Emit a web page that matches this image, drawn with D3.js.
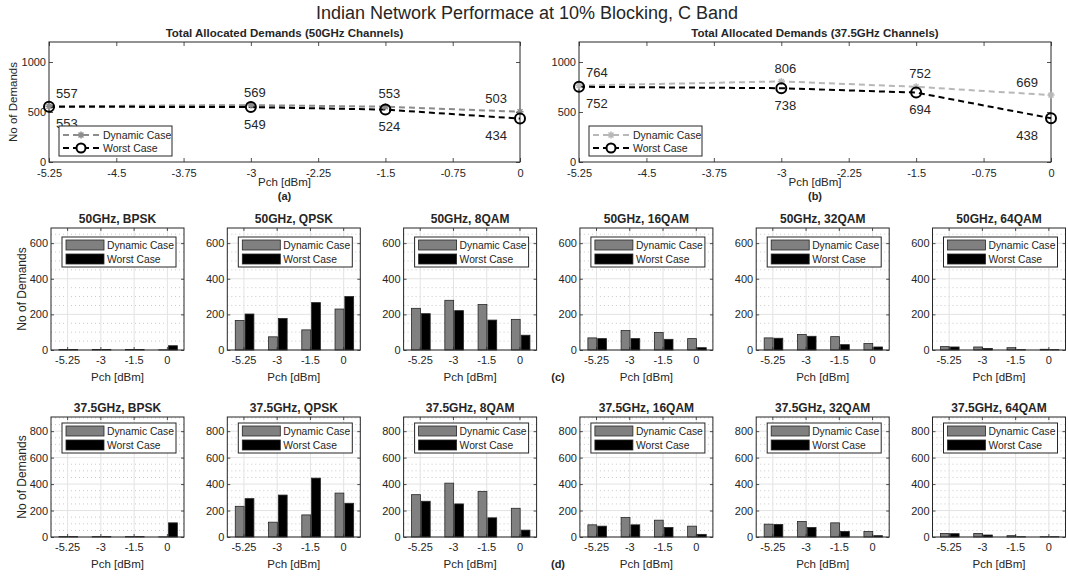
<!DOCTYPE html>
<html><head><meta charset="utf-8">
<script src="https://cdn.jsdelivr.net/npm/d3@7"></script>
<style>
body{margin:0;background:#fff;}
text{font-family:"Liberation Sans",Arial,Helvetica,sans-serif;fill:#262626;}
</style></head>
<body><svg id="chart" width="1068" height="576"></svg>
<script>
// ---------- DATA ----------
const mainTitle = "Indian Network Performace at 10% Blocking, C Band";
const lineXTicks = [-5.25, -4.5, -3.75, -3, -2.25, -1.5, -0.75, 0];
const pchValues = [-5.25, -3, -1.5, 0];
const pchLabels = ["-5.25", "-3", "-1.5", "0"];
const seriesNames = ["Dynamic Case", "Worst Case"];

const dyn50Total = [557, 569, 553, 503];
const worst50Total = [553, 549, 524, 434];
const dyn375Total = [764, 806, 752, 669];
const worst375Total = [752, 738, 694, 438];

const modulations = ["BPSK", "QPSK", "8QAM", "16QAM", "32QAM", "64QAM"];
const dyn50 = [[3,3,3,1],[166,74,113,230],[234,279,255,172],[68,109,98,64],[68,87,75,36],[19,17,13,4]];
const worst50 = [[3,3,3,24],[202,177,266,300],[204,221,168,83],[64,64,60,13],[66,77,30,17],[17,9,2,2]];
const dyn375 = [[3,3,3,1],[232,112,167,332],[320,407,345,217],[92,147,127,82],[97,117,107,42],[27,27,10,2]];
const worst375 = [[3,3,3,107],[290,317,445,255],[270,250,145,52],[82,92,72,20],[95,72,42,10],[25,15,2,2]];

const topYTicks = [0, 500, 1000];
const row1YTicks = [0, 200, 400, 600];
const row2YTicks = [0, 200, 400, 600, 800];

// ---------- DRAW ----------
const svg = d3.select("#chart");
const AX = "#262626";

svg.append("text").attr("x", 527).attr("y", 19).attr("text-anchor", "middle")
  .style("font-size", "18px").text(mainTitle);

function styleAxis(g, showLabels) {
  g.select(".domain").remove();
  g.selectAll(".tick line").attr("stroke", AX).attr("stroke-width", 0.8);
  g.selectAll(".tick text").style("font-size", "11px").attr("fill", AX);
  if (!showLabels) g.selectAll(".tick text").remove();
}

function starPath(r) {
  const p = [];
  for (let k = 0; k < 4; k++) {
    const a = k * Math.PI / 4;
    p.push(`M${-r*Math.cos(a)},${-r*Math.sin(a)}L${r*Math.cos(a)},${r*Math.sin(a)}`);
  }
  return p.join("");
}

function linePanel(x0, x1, dynData, worstData, title, dynColor, letter) {
  const top = 42, bot = 162;
  const x = d3.scaleLinear().domain([-5.25, 0]).range([x0, x1]);
  const y = d3.scaleLinear().domain([0, 1200]).range([bot, top]);
  const g = svg.append("g");
  g.append("g").attr("transform", `translate(0,${bot})`)
    .call(d3.axisBottom(x).tickValues(lineXTicks).tickFormat(d => String(d)).tickSizeInner(-4).tickSizeOuter(0).tickPadding(7))
    .call(a => styleAxis(a, true));
  g.append("g").attr("transform", `translate(0,${top})`)
    .call(d3.axisTop(x).tickValues(lineXTicks).tickSizeInner(-4).tickSizeOuter(0))
    .call(a => styleAxis(a, false));
  g.append("g").attr("transform", `translate(${x0},0)`)
    .call(d3.axisLeft(y).tickValues(topYTicks).tickFormat(d => String(d)).tickSizeInner(-4).tickSizeOuter(0).tickPadding(3))
    .call(a => styleAxis(a, true));
  g.append("g").attr("transform", `translate(${x1},0)`)
    .call(d3.axisRight(y).tickValues(topYTicks).tickSizeInner(-4).tickSizeOuter(0))
    .call(a => styleAxis(a, false));
  g.append("rect").attr("x", x0).attr("y", top).attr("width", x1 - x0).attr("height", bot - top)
    .attr("fill", "none").attr("stroke", AX).attr("stroke-width", 1);

  const line = d3.line().x((d, i) => x(pchValues[i])).y(d => y(d));
  g.append("path").datum(dynData).attr("d", line).attr("fill", "none")
    .attr("stroke", dynColor).attr("stroke-width", 2).attr("stroke-dasharray", "6,4");
  g.append("path").datum(worstData).attr("d", line).attr("fill", "none")
    .attr("stroke", "#000").attr("stroke-width", 2).attr("stroke-dasharray", "6,4");
  g.selectAll(".star").data(dynData).enter().append("path")
    .attr("transform", (d, i) => `translate(${x(pchValues[i])},${y(d)})`)
    .attr("d", starPath(3.5)).attr("stroke", dynColor).attr("stroke-width", 1.5).attr("fill", "none");
  g.selectAll(".circ").data(worstData).enter().append("circle")
    .attr("cx", (d, i) => x(pchValues[i])).attr("cy", d => y(d)).attr("r", 5)
    .attr("fill", "none").attr("stroke", "#000").attr("stroke-width", 2);

  const anchor = i => i === 0 ? "start" : (i === pchValues.length - 1 ? "end" : "middle");
  const dx = i => i === 0 ? 7 : (i === pchValues.length - 1 ? -13 : 4);
  g.selectAll(".lblD").data(dynData).enter().append("text")
    .attr("x", (d, i) => x(pchValues[i]) + dx(i)).attr("y", d => y(d) - 13).attr("dy", "0.35em")
    .attr("text-anchor", (d, i) => anchor(i)).style("font-size", "13px").text(d => d);
  g.selectAll(".lblW").data(worstData).enter().append("text")
    .attr("x", (d, i) => x(pchValues[i]) + dx(i)).attr("y", d => y(d) + 17).attr("dy", "0.35em")
    .attr("text-anchor", (d, i) => anchor(i)).style("font-size", "13px").text(d => d);

  // legend
  const lx = x0 + 10, ly = 126;
  g.append("rect").attr("x", lx).attr("y", ly).attr("width", 113).attr("height", 30)
    .attr("fill", "#fff").attr("stroke", AX).attr("stroke-width", 1);
  [[dynColor, "star"], ["#000", "circ"]].forEach((s, k) => {
    const cy = ly + 9 + k * 13;
    g.append("line").attr("x1", lx + 4).attr("x2", lx + 41).attr("y1", cy).attr("y2", cy)
      .attr("stroke", s[0]).attr("stroke-width", 2).attr("stroke-dasharray", "6,4");
    if (s[1] === "star") {
      g.append("path").attr("transform", `translate(${lx + 22},${cy})`).attr("d", starPath(3.5))
        .attr("stroke", s[0]).attr("stroke-width", 1.5).attr("fill", "#fff");
    } else {
      g.append("circle").attr("cx", lx + 22).attr("cy", cy).attr("r", 4.5)
        .attr("fill", "#fff").attr("stroke", "#000").attr("stroke-width", 2);
    }
    g.append("text").attr("x", lx + 44).attr("y", cy).attr("dy", "0.35em")
      .style("font-size", "10.5px").text(seriesNames[k]);
  });

  g.append("text").attr("x", (x0 + x1) / 2).attr("y", 33).attr("dy", "0.35em").attr("text-anchor", "middle")
    .style("font-size", "11.5px").style("font-weight", "bold").text(title);
  g.append("text").attr("x", (x0 + x1) / 2).attr("y", 182).attr("dy", "0.35em").attr("text-anchor", "middle")
    .style("font-size", "11.5px").text("Pch [dBm]");
  g.append("text").attr("x", (x0 + x1) / 2).attr("y", 196).attr("dy", "0.35em").attr("text-anchor", "middle")
    .style("font-size", "11px").style("font-weight", "bold").text(letter);
}

linePanel(49, 520, dyn50Total, worst50Total, "Total Allocated Demands (50GHz Channels)", "#8c8c8c", "(a)");
linePanel(579, 1051, dyn375Total, worst375Total, "Total Allocated Demands (37.5GHz Channels)", "#b8b8b8", "(b)");
svg.append("text").attr("transform", "translate(13,102) rotate(-90)").attr("dy", "0.35em")
  .attr("text-anchor", "middle").style("font-size", "11.5px").text("No of Demands");

function barPanel(left, top, bot, ymax, yTicks, dynD, worstD, title, legOff, showYLabel) {
  const right = left + 133;
  const x = d3.scaleBand().domain(pchLabels).range([left, right]).padding(0);
  const bw = x.bandwidth();
  const sub = d3.scaleBand().domain(seriesNames).range([bw * 0.24, bw * 0.8]).paddingInner(0.1);
  const y = d3.scaleLinear().domain([0, ymax]).range([bot, top]);
  const g = svg.append("g");
  // minor grid
  const minor = d3.range(50, ymax, 50).filter(v => !yTicks.includes(v));
  g.selectAll(".mg").data(minor).enter().append("line")
    .attr("x1", left).attr("x2", right).attr("y1", d => y(d)).attr("y2", d => y(d))
    .attr("stroke", "#bdbdbd").attr("stroke-width", 0.8).attr("stroke-dasharray", "1,3");
  // major grid
  g.selectAll(".gy").data(yTicks).enter().append("line")
    .attr("x1", left).attr("x2", right).attr("y1", d => y(d)).attr("y2", d => y(d))
    .attr("stroke", "#e3e3e3").attr("stroke-width", 1);
  g.selectAll(".gx").data(pchLabels).enter().append("line")
    .attr("x1", d => x(d) + bw / 2).attr("x2", d => x(d) + bw / 2).attr("y1", top).attr("y2", bot)
    .attr("stroke", "#e3e3e3").attr("stroke-width", 1);
  // bars
  const fills = ["#808080", "#000000"];
  [dynD, worstD].forEach((arr, k) => {
    g.selectAll(".b" + k).data(arr).enter().append("rect")
      .attr("x", (d, i) => x(pchLabels[i]) + sub(seriesNames[k]))
      .attr("width", sub.bandwidth())
      .attr("y", d => y(d)).attr("height", d => bot - y(d))
      .attr("fill", fills[k]).attr("stroke", "#262626").attr("stroke-width", 0.8);
  });
  // axes
  g.append("g").attr("transform", `translate(0,${bot})`)
    .call(d3.axisBottom(x).tickSizeInner(-3).tickSizeOuter(0).tickPadding(6))
    .call(a => styleAxis(a, true));
  g.append("g").attr("transform", `translate(0,${top})`)
    .call(d3.axisTop(x).tickSizeInner(-3).tickSizeOuter(0))
    .call(a => styleAxis(a, false));
  g.append("g").attr("transform", `translate(${left},0)`)
    .call(d3.axisLeft(y).tickValues(yTicks).tickSizeInner(-3).tickSizeOuter(0).tickPadding(3))
    .call(a => styleAxis(a, true));
  g.append("g").attr("transform", `translate(${right},0)`)
    .call(d3.axisRight(y).tickValues(yTicks).tickSizeInner(-3).tickSizeOuter(0))
    .call(a => styleAxis(a, false));
  g.append("rect").attr("x", left).attr("y", top).attr("width", right - left).attr("height", bot - top)
    .attr("fill", "none").attr("stroke", AX).attr("stroke-width", 1);
  // legend
  const lx = left + 11, ly = top + legOff;
  g.append("rect").attr("x", lx).attr("y", ly).attr("width", 114).attr("height", 30)
    .attr("fill", "#fff").attr("stroke", AX).attr("stroke-width", 1);
  seriesNames.forEach((s, k) => {
    const cy = ly + 8 + k * 14;
    g.append("rect").attr("x", lx + 4).attr("y", cy - 5).attr("width", 38).attr("height", 10)
      .attr("fill", fills[k]).attr("stroke", "#262626").attr("stroke-width", 0.8);
    g.append("text").attr("x", lx + 45).attr("y", cy).attr("dy", "0.35em")
      .style("font-size", "10.3px").text(s);
  });
  g.append("text").attr("x", (left + right) / 2).attr("y", top - 9).attr("dy", "0.35em").attr("text-anchor", "middle")
    .style("font-size", "12px").style("font-weight", "bold").text(title);
  g.append("text").attr("x", (left + right) / 2).attr("y", bot + 27).attr("dy", "0.35em").attr("text-anchor", "middle")
    .style("font-size", "11.5px").text("Pch [dBm]");
  if (showYLabel) {
    g.append("text").attr("transform", `translate(${left - 29},${(top + bot) / 2}) rotate(-90)`).attr("dy", "0.35em")
      .attr("text-anchor", "middle").style("font-size", "12px").text("No of Demands");
  }
}

modulations.forEach((m, i) => {
  const left = 51 + i * 176.3;
  barPanel(left, 228, 350, 685, row1YTicks, dyn50[i], worst50[i], "50GHz, " + m, 9, i === 0);
  barPanel(left, 417, 537, 907, row2YTicks, dyn375[i], worst375[i], "37.5GHz, " + m, 6, i === 0);
});
svg.append("text").attr("x", 558).attr("y", 377).attr("dy", "0.35em").attr("text-anchor", "middle")
  .style("font-size", "11px").style("font-weight", "bold").text("(c)");
svg.append("text").attr("x", 558).attr("y", 564).attr("dy", "0.35em").attr("text-anchor", "middle")
  .style("font-size", "11px").style("font-weight", "bold").text("(d)");
</script></body></html>
